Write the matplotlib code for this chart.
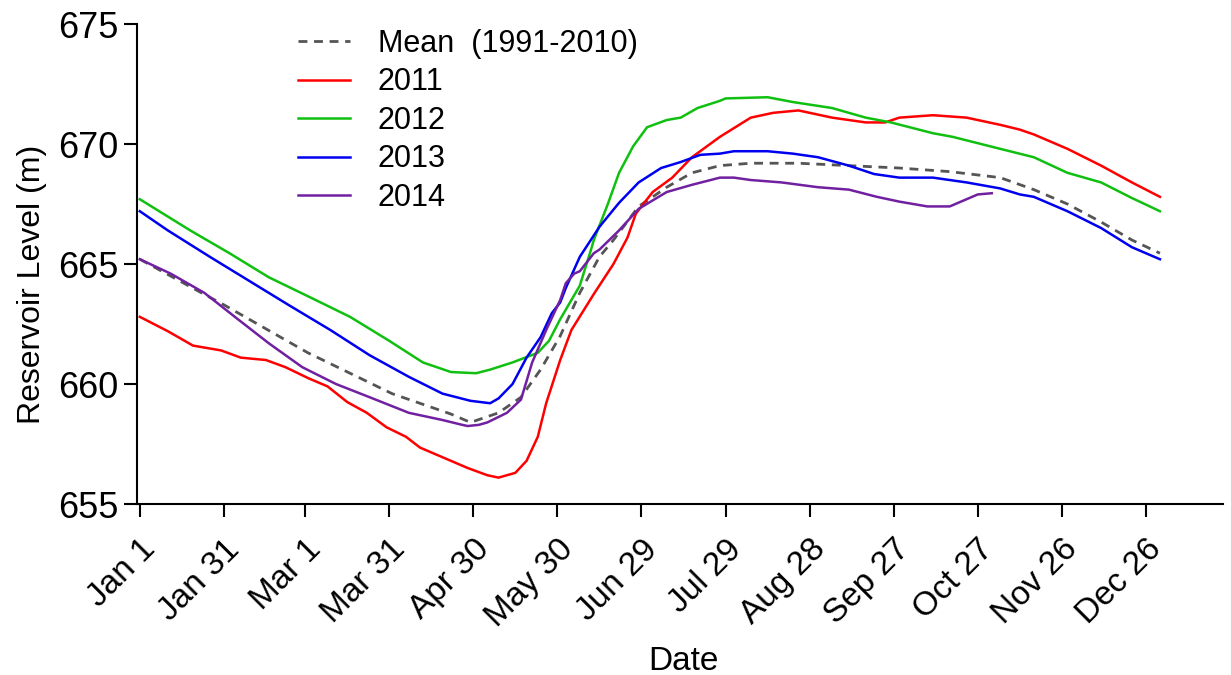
import matplotlib
matplotlib.use("Agg")
import matplotlib.pyplot as plt

plt.rcParams['font.family'] = ['Liberation Sans', 'DejaVu Sans']

# ---- data (day of year, reservoir level in m) ----
mean_days = [1, 23, 31, 61, 91, 112, 119, 129, 137, 144, 151, 158, 165, 170, 179, 189,
             198, 208, 219, 236, 254, 272, 290, 308, 320, 332, 344, 355, 365]
mean_vals = [665.2, 663.8, 663.3, 661.3, 659.6, 658.75, 658.4, 658.8, 659.45, 660.6, 662.0,
             663.8, 665.3, 666.0, 667.4, 668.2, 668.8, 669.1, 669.2, 669.2, 669.1, 669.0,
             668.85, 668.6, 668.1, 667.5, 666.75, 666.0, 665.45]

y2011_days = [1, 11, 20, 30, 37, 46, 53, 61, 68, 75, 82, 89, 96, 101, 108, 118, 125, 129,
              135, 139, 143, 146, 151, 155, 163, 170, 175, 178, 184, 191, 198, 208, 219,
              227, 236, 248, 260, 267, 272, 284, 296, 308, 315, 320, 332, 344, 355, 365]
y2011_vals = [662.8, 662.2, 661.6, 661.4, 661.1, 661.0, 660.7, 660.25, 659.9, 659.25, 658.8,
              658.2, 657.8, 657.35, 657.0, 656.5, 656.2, 656.1, 656.3, 656.8, 657.8, 659.2,
              661.0, 662.25, 663.75, 665.0, 666.1, 667.1, 668.0, 668.6, 669.45, 670.3,
              671.1, 671.3, 671.4, 671.1, 670.9, 670.9, 671.1, 671.2, 671.1, 670.8, 670.6,
              670.4, 669.8, 669.1, 668.4, 667.8]

y2012_days = [1, 19, 33, 47, 62, 76, 90, 102, 112, 121, 126, 134, 143, 147, 151, 153, 158,
              162, 163, 168, 172, 177, 182, 189, 194, 200, 208, 210, 225, 234, 248, 260,
              269, 284, 291, 308, 320, 332, 344, 355, 365]
y2012_vals = [667.7, 666.4, 665.45, 664.45, 663.6, 662.8, 661.8, 660.9, 660.5, 660.45,
              660.6, 660.9, 661.3, 661.8, 662.7, 663.1, 664.1, 665.6, 666.0, 667.5, 668.8,
              669.9, 670.7, 671.0, 671.1, 671.5, 671.8, 671.9, 671.95, 671.75, 671.5,
              671.1, 670.9, 670.45, 670.3, 669.8, 669.45, 668.8, 668.4, 667.75, 667.2]

y2013_days = [1, 11, 26, 40, 54, 69, 83, 97, 109, 119, 126, 129, 134, 139, 144, 148, 151,
              153, 158, 165, 172, 179, 187, 194, 201, 208, 213, 225, 234, 243, 254, 263,
              272, 284, 296, 308, 315, 320, 332, 344, 355, 365]
y2013_vals = [667.2, 666.4, 665.3, 664.3, 663.3, 662.25, 661.2, 660.3, 659.6, 659.3, 659.2,
              659.4, 660.0, 661.1, 661.95, 662.95, 663.4, 664.0, 665.3, 666.55, 667.55,
              668.4, 669.0, 669.25, 669.55, 669.6, 669.7, 669.7, 669.6, 669.45, 669.1,
              668.75, 668.6, 668.6, 668.4, 668.15, 667.9, 667.8, 667.2, 666.5, 665.7, 665.2]

y2014_days = [1, 12, 24, 36, 47, 59, 71, 83, 97, 109, 116, 118, 122, 125, 132, 137, 141,
              146, 151, 153, 156, 158, 163, 165, 172, 179, 189, 198, 208, 213, 219, 230,
              243, 254, 264, 272, 282, 290, 295, 300, 305]
y2014_vals = [665.2, 664.6, 663.8, 662.7, 661.7, 660.7, 660.0, 659.45, 658.8, 658.5, 658.3,
              658.25, 658.3, 658.4, 658.8, 659.35, 660.9, 662.25, 663.5, 664.2, 664.6,
              664.7, 665.45, 665.6, 666.4, 667.3, 668.0, 668.3, 668.6, 668.6, 668.5, 668.4,
              668.2, 668.1, 667.8, 667.6, 667.4, 667.4, 667.65, 667.9, 667.95]

tick_days = [1, 31, 60, 90, 120, 150, 180, 210, 240, 270, 300, 330, 360]
tick_labels = ['Jan 1', 'Jan 31', 'Mar 1', 'Mar 31', 'Apr 30', 'May 30', 'Jun 29',
               'Jul 29', 'Aug 28', 'Sep 27', 'Oct 27', 'Nov 26', 'Dec 26']
y_ticks = [655, 660, 665, 670, 675]

# ---- figure ----
fig = plt.figure(figsize=(12.31, 6.75), dpi=100)
ax = fig.add_axes([0.1113, 0.2533, 0.8822, 0.7111])

ax.plot(mean_days, mean_vals, color='#555555', lw=2.0, ls=(0, (3.2, 2.4)),
        label='Mean  (1991-2010)')
ax.plot(y2011_days, y2011_vals, color='#ff0000', lw=1.8, label='2011')
ax.plot(y2012_days, y2012_vals, color='#10c010', lw=1.8, label='2012')
ax.plot(y2013_days, y2013_vals, color='#0000f0', lw=1.8, label='2013')
ax.plot(y2014_days, y2014_vals, color='#7020a0', lw=1.8, label='2014')

ax.set_xlim(0, 387.5)
ax.set_ylim(655, 675)
ax.set_yticks(y_ticks)
ax.set_xticks(tick_days)
ax.set_xticklabels(tick_labels, rotation=45, ha='right', va='top',
                   rotation_mode='anchor', fontsize=24)
ax.tick_params(axis='y', labelsize=26, length=9.4, width=1.5, direction='out', pad=4)
ax.tick_params(axis='x', length=9.4, width=1.5, direction='out', pad=12)

for s in ['top', 'right']:
    ax.spines[s].set_visible(False)
for s in ['left', 'bottom']:
    ax.spines[s].set_linewidth(1.5)

ax.set_ylabel('Reservoir Level (m)', fontsize=23)
ax.yaxis.set_label_coords(-0.083, 0.458)
ax.set_xlabel('Date', fontsize=24)
ax.xaxis.set_label_coords(0.503, -0.295)

ax.legend(loc='upper left', bbox_to_anchor=(0.148, 0.99), frameon=False, fontsize=22,
          handlelength=1.7, handletextpad=0.92, labelspacing=0.28, borderpad=0,
          borderaxespad=0)

fig.savefig('out.png', dpi=100)
